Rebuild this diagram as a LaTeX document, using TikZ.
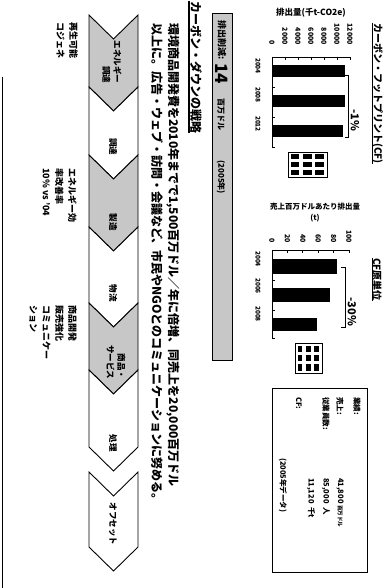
\documentclass[tikz,border=0pt]{standalone}
\usepackage{fontspec}
\setmainfont{Noto Sans CJK JP}
\newcommand\myfs[2]{\fontsize{#1}{#2}\selectfont}
\tikzset{
  chevbox/.style={draw=black, line width=0.9pt, line join=miter},
  halftone/.style={fill=black!22},
  blank/.style={fill=white},
  chevlab/.style={font=\myfs{8.5}{11}\bfseries, align=right, inner sep=0pt},
  side/.style={font=\myfs{9}{13}\bfseries, align=left, anchor=north west, inner sep=0pt},
  para/.style={font=\myfs{12}{12}\bfseries, anchor=west, inner sep=0pt},
  ttl/.style={font=\myfs{10}{10}\bfseries, anchor=south west, inner sep=0pt},
  tick/.style={font=\myfs{7}{7}\bfseries, anchor=east, inner sep=0pt},
  yr/.style={font=\myfs{6.5}{7}\bfseries, inner sep=0pt},
  axis/.style={line width=0.9pt},
  bar/.style={fill=black},
  pct/.style={font=\myfs{11}{11}\bfseries, inner sep=0pt},
  info/.style={font=\myfs{7.5}{8}\bfseries, anchor=west, inner sep=0pt},
  frame/.style={draw=black, line width=0.9pt},
}
\newcommand\chev[4]{%
  \draw[chevbox,#3] (#1,138) -- (#2,138) -- ({#2+24},113.5) -- (#2,89) -- (#1,89) -- ({#1+24},113.5) -- cycle;
  \coordinate (#4) at ({(#1+#2)/2+12},113.5);}
\newcommand\legicon[5]{% name, u0, v0, width, height
  \draw[frame] (#2,#3) rectangle ({#2+#4},{#3+#5});
  \coordinate (#1) at (#2,#3);
  \foreach \i in {0,1,2}{\foreach \j in {0,1,2}{
    \fill ({#2+2.5+\i*(#4-2)/3},{#3+2.5+\j*(#5-2)/3}) rectangle ++({(#4-2)/3-3},{(#5-2)/3-3.5});}}}
\begin{document}
\begin{tikzpicture}[x=1pt,y=1pt]
\useasboundingbox (0,0) rectangle (390,-588);
\fill[white] (0,0) rectangle (390,-588);
\begin{scope}[rotate=-90, transform shape]
% ---------- left border line
\draw[line width=0.8pt] (77,2) -- (588,2);

% ---------- title 1 and chart 1
\node[ttl] (title1) at (23,372) {カーボン・フットプリント(CF)};
\draw[line width=0.8pt] (title1.south west) -- (title1.south east);
\node[font=\myfs{8.5}{9}\bfseries, rotate=90, inner sep=0pt] (ylab1) at (13,311) {排出量(千t-CO2e)};
\draw[axis] (57,272) -- (57,350);
\draw[axis] (57,272) -- (147,272);
\foreach \k/\t in {0/0,1/2000,2/4000,3/6000,4/8000,5/10000,6/12000}{
  \draw[axis] (57,{272+13*\k}) -- (60,{272+13*\k});
  \node[tick] (ta\k) at (45,{272+13*\k}) {\t};}
\foreach \u in {87,117,147}{\draw[axis] (\u,272) -- (\u,275);}
\fill[bar] (65,272) rectangle (77,345);
\fill[bar] (95,272) rectangle (107,345);
\fill[bar] (125,272) rectangle (137,343);
\node[yr] (ya1) at (66,258) {2004};
\node[yr] (ya2) at (95,258) {2008};
\node[yr] (ya3) at (124,258) {2012};
\draw[axis] (75,345) -- (75,348) -- (137,348) -- (137,345);
\node[pct] (pa) at (120,355) {-1\%};
\legicon{la}{152}{288}{25}{39}

% ---------- title 2 and chart 2
\node[ttl] (title2) at (258,372) {CF原単位};
\draw[line width=0.8pt] (title2.south west) -- (title2.south east);
\node[font=\myfs{7.5}{11}\bfseries, rotate=90, align=center, inner sep=0pt] (ylab2) at (213,315) {売上百万ドルあたり排出量\\(t)};
\draw[axis] (250,272) -- (250,350);
\draw[axis] (250,272) -- (338,272);
\foreach \k/\t in {0/0,1/20,2/40,3/60,4/80,5/100}{
  \draw[axis] (250,{272+15.4*\k}) -- (253,{272+15.4*\k});
  \node[tick] (tb\k) at (243,{272+15.4*\k}) {\t};}
\foreach \u in {280,310,338}{\draw[axis] (\u,272) -- (\u,275);}
\fill[bar] (259,272) rectangle (274,337);
\fill[bar] (288,272) rectangle (302,330);
\fill[bar] (318,272) rectangle (331,317);
\node[yr] (yb1) at (259,258) {2004};
\node[yr] (yb2) at (286,258) {2006};
\node[yr] (yb3) at (314,258) {2008};
\draw[axis] (267,341) -- (267,345) -- (327,345) -- (327,341);
\node[pct] (pb) at (312,352) {-30\%};
\legicon{lb}{343}{295}{30}{27}

% ---------- info box
\draw[frame] (388,272) rectangle (572,367);
\node[info] (i1) at (397,357) {業績:};
\node[info] (i2) at (397,340) {売上:};
\node[info] (i3) at (397,326) {従業員数:};
\node[info] (i4) at (397,299) {CF:};
\node[info] (v2) at (478,340) {41,800 {\myfs{5.5}{6}百万ドル}};
\node[info] (v3) at (478,326) {85,000 \ 人};
\node[info] (v4) at (478,311) {11,120 \ 千t};
\node[info] (v5) at (458,283) {(2005年データ)};

% ---------- reduction box
\draw[frame, halftone] (13,212) rectangle (360,232);
\node[font=\myfs{9}{9}\bfseries, anchor=west, inner sep=0pt] (rd1) at (20,222) {排出削減:};
\node[font=\myfs{17}{17}\bfseries, anchor=west, inner sep=0pt] (rd2) at (63,222) {14};
\node[font=\myfs{8}{8}\bfseries, anchor=west, inner sep=0pt] (rd3) at (98,221) {百万ドル};
\node[font=\myfs{8}{8}\bfseries, anchor=west, inner sep=0pt] (rd4) at (160,221) {(2005年)};

% ---------- strategy heading and paragraph
\node[font=\myfs{12}{12}\bfseries, anchor=south west, inner sep=0pt] (head) at (1,190) {カーボン・ダウンの戦略};
\draw[line width=1.4pt] (head.south west) ++(0,-1) -- ([yshift=-1pt]head.south east);
\node[para] (p1) at (23,173) {環境商品開発費を2010年までで1,500百万ドル／年に倍増、同売上を20,000百万ドル};
\node[para] (p2) at (23,157) {以上に。広告・ウェブ・訪問・会議など、市民やNGOとのコミュニケーションに努める。};

% ---------- value chain chevrons
\chev{15}{87}{halftone}{c1}
\chev{87}{155}{blank}{c2}
\chev{155}{227}{halftone}{c3}
\chev{227}{303}{blank}{c4}
\chev{303}{370}{halftone}{c5}
\chev{370}{447}{blank}{c6}
\chev{472}{547}{blank}{c7}
\node[chevlab] (l1) at (62,112) {エネルギー\\調達};
\node[chevlab] (l2) at (147,113) {調達};
\node[chevlab] (l3) at (222,113) {製造};
\node[chevlab] (l4) at (293,113) {物流};
\node[chevlab] (l5) at (362,116) {商品・\\サービス};
\node[chevlab] (l6) at (443,113) {処理};
\node[chevlab] (l7) at (524,113) {オフセット};

% ---------- notes under the chain
\node[side] (s1) at (22,78) {再生可能\\コジェネ};
\node[side] (s2) at (168,77) {エネルギー効\\率改善率\\10\% vs '04};
\node[side] (s3) at (305,77) {商品開発\\販売強化\\コミュニケー\\ション};
\end{scope}
\end{tikzpicture}
\end{document}
